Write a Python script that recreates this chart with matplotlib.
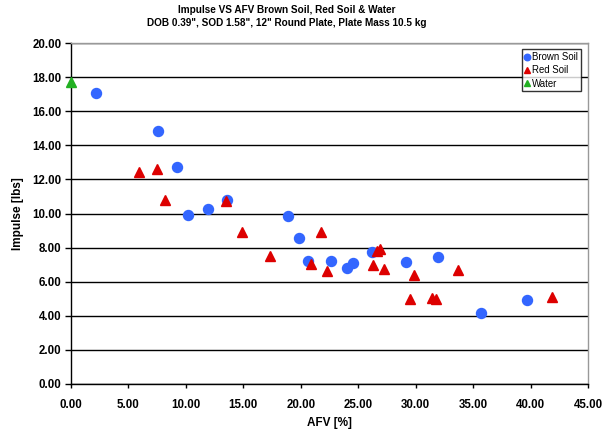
import matplotlib
matplotlib.use("Agg")
import matplotlib.pyplot as plt
from matplotlib.ticker import MultipleLocator, FormatStrFormatter

plt.rcParams['font.family'] = ['Liberation Sans', 'DejaVu Sans']

brown_x = [2.2, 7.6, 9.25, 10.15, 11.9, 13.6, 18.9, 19.87, 20.65, 22.6, 24.0, 24.57, 26.17, 29.2, 31.97, 35.7, 39.66]
brown_y = [17.05, 14.82, 12.73, 9.93, 10.26, 10.79, 9.84, 8.54, 7.23, 7.23, 6.83, 7.1, 7.76, 7.13, 7.47, 4.14, 4.9]

red_x = [5.89, 7.45, 8.15, 13.46, 14.85, 17.32, 21.76, 20.86, 22.25, 26.3, 26.6, 26.9, 27.27, 29.5, 29.88, 31.39, 31.8, 33.7, 41.9]
red_y = [12.45, 12.59, 10.79, 10.73, 8.93, 7.5, 8.93, 7.02, 6.63, 6.98, 7.82, 7.9, 6.72, 4.97, 6.39, 5.02, 4.97, 6.69, 5.08]

water_x = [0.0]
water_y = [17.7]

fig = plt.figure(figsize=(6.1, 4.34), dpi=100)
ax = fig.add_axes([71/610, 50/434, 517/610, 341/434])

ax.set_xlim(0, 45)
ax.set_ylim(0, 20)
ax.xaxis.set_major_locator(MultipleLocator(5))
ax.yaxis.set_major_locator(MultipleLocator(2))
ax.xaxis.set_major_formatter(FormatStrFormatter('%.2f'))
ax.yaxis.set_major_formatter(FormatStrFormatter('%.2f'))
ax.grid(axis='y', color='black', linewidth=1.0)
ax.set_axisbelow(True)

for s in ['left', 'bottom']:
    ax.spines[s].set_color('black')
    ax.spines[s].set_linewidth(1.0)
for s in ['top', 'right']:
    ax.spines[s].set_color('#999999')
    ax.spines[s].set_linewidth(1.0)

ax.tick_params(axis='y', direction='out', length=4, width=1, labelsize=8.3, pad=3)
ax.tick_params(axis='x', direction='out', length=3, width=1, labelsize=8.3, pad=8)
for lab in ax.get_xticklabels() + ax.get_yticklabels():
    lab.set_fontweight('bold')

ax.plot(brown_x, brown_y, 'o', color='#3366FF', markersize=7.2, label='Brown Soil', clip_on=False)
ax.plot(red_x, red_y, '^', color='#DD0000', markersize=7.2, label='Red Soil', clip_on=False)
ax.plot(water_x, water_y, '^', color='#22B022', markersize=7.2, label='Water', clip_on=False, zorder=5)

ax.set_xlabel('AFV [%]', fontsize=8.5, fontweight='bold', labelpad=4)
ax.set_ylabel('Impulse [lbs]', fontsize=8.5, fontweight='bold', labelpad=6)

fig.text(287/610, 0.988, 'Impulse VS AFV Brown Soil, Red Soil & Water\nDOB 0.39", SOD 1.58", 12" Round Plate, Plate Mass 10.5 kg',
         ha='center', va='top', fontsize=7.2, fontweight='bold', linespacing=1.3)

leg = ax.legend(loc='upper right', bbox_to_anchor=(1 - 7/517, 1 - 6/341), bbox_transform=ax.transAxes,
                fontsize=6.9, frameon=True, fancybox=False,
                edgecolor='black', handlelength=0.5, handletextpad=0.25, borderpad=0.3, labelspacing=0.35,
                markerscale=0.65, borderaxespad=0)
leg.get_frame().set_linewidth(1.0)

fig.savefig('out.png', dpi=100)
